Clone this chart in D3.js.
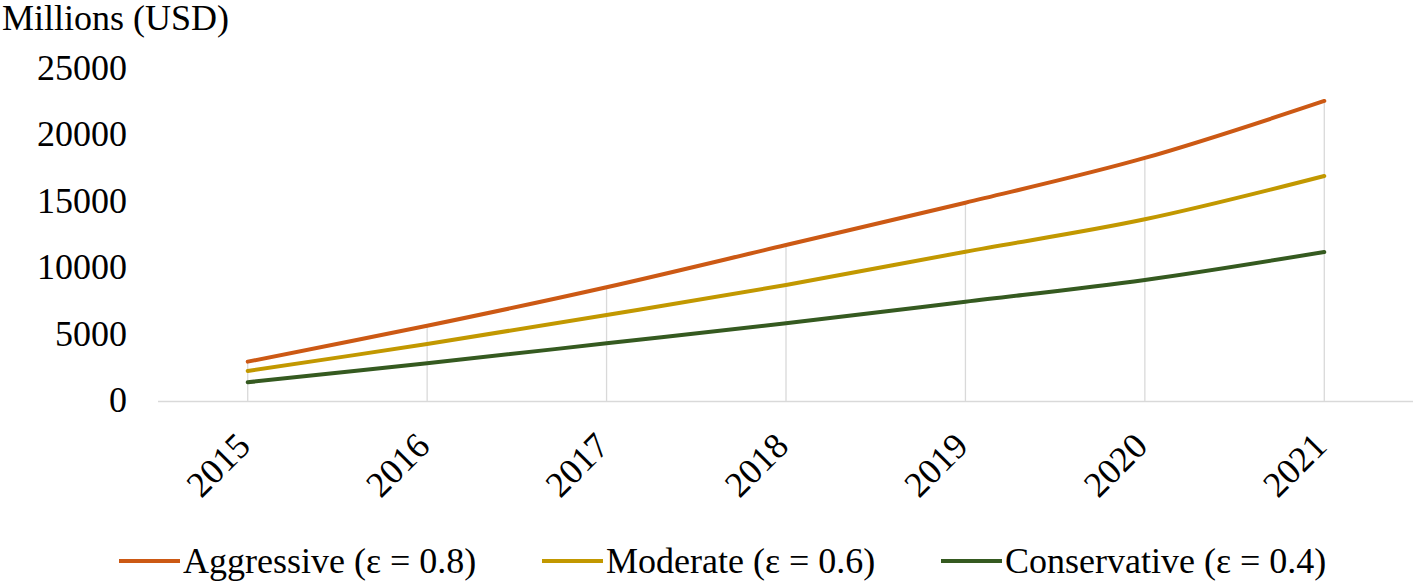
<!DOCTYPE html>
<html><head><meta charset="utf-8">
<script src="https://cdn.jsdelivr.net/npm/d3@7"></script>
<style>
html,body{margin:0;padding:0;background:#fff;}
svg{display:block;}
svg text{font-family:"Liberation Serif","Times New Roman",Times,serif;}
</style></head>
<body><svg id="c" width="1416" height="582"></svg>
<script>
const years = ["2015","2016","2017","2018","2019","2020","2021"];
const aggressive = [3000, 5700, 8600, 11780, 14970, 18340, 22630];
const moderate = [2300, 4330, 6510, 8770, 11280, 13720, 16980];
const conservative = [1450, 2880, 4380, 5890, 7510, 9150, 11260];
const yTicks = [0, 5000, 10000, 15000, 20000, 25000];
const seriesNames = ["Aggressive (\u03b5 = 0.8)", "Moderate (\u03b5 = 0.6)", "Conservative (\u03b5 = 0.4)"];
const colors = ["#CC5914", "#C29800", "#355A20"];
const yTitle = "Millions (USD)";

const series = [aggressive, moderate, conservative];
const svg = d3.select("#c");
const x = d3.scalePoint().domain(years).range([158, 1414]).padding(0.5);
const y = d3.scaleLinear().domain([0, 25000]).range([401.5, 69.5]);
const fs = 36;

// drop lines
svg.append("g").selectAll("line").data(years).join("line")
  .attr("x1", d => x(d)).attr("x2", d => x(d))
  .attr("y1", (d, i) => y(d3.max(series, s => s[i])))
  .attr("y2", y(0))
  .attr("stroke", "#d9d9d9").attr("stroke-width", 1.3);

// baseline
svg.append("line").attr("x1", 158).attr("x2", 1413).attr("y1", y(0)).attr("y2", y(0))
  .attr("stroke", "#d9d9d9").attr("stroke-width", 1.5);

// y axis
const ya = svg.append("g").attr("transform", "translate(127,-1.5)")
  .call(d3.axisLeft(y).tickValues(yTicks).tickSize(0).tickPadding(0).tickFormat(d3.format("d")));
ya.select(".domain").remove();
ya.attr("font-family", null);
ya.selectAll("text").attr("font-size", fs).attr("fill", "#000");

// x axis
const xa = svg.append("g").attr("transform", `translate(0,${y(0)})`)
  .call(d3.axisBottom(x).tickSize(0).tickPadding(0));
xa.select(".domain").remove();
xa.attr("font-family", null);
xa.selectAll("text").attr("font-size", fs).attr("fill", "#000")
  .attr("text-anchor", "end").attr("dy", 0).attr("y", 0)
  .attr("transform", "translate(4,46.5) rotate(-45)");

// y title
svg.append("text").attr("x", 2).attr("y", 30).attr("font-size", fs).text(yTitle);

// lines
const line = d3.line().x((d, i) => x(years[i])).y(d => y(d)).curve(d3.curveCardinal);
svg.append("g").selectAll("path").data(series).join("path")
  .attr("d", d => line(d)).attr("fill", "none")
  .attr("stroke", (d, i) => colors[i]).attr("stroke-width", 4).attr("stroke-linecap", "round");

// legend
const legX = [119, 542, 941];
const lg = svg.append("g").selectAll("g").data(seriesNames).join("g")
  .attr("transform", (d, i) => `translate(${legX[i]},561)`);
lg.append("line").attr("x1", 0).attr("x2", 61).attr("y1", 0).attr("y2", 0)
  .attr("stroke", (d, i) => colors[i]).attr("stroke-width", 4);
lg.append("text").attr("x", 64).attr("y", 12).attr("font-size", fs).text(d => d);
</script></body></html>
